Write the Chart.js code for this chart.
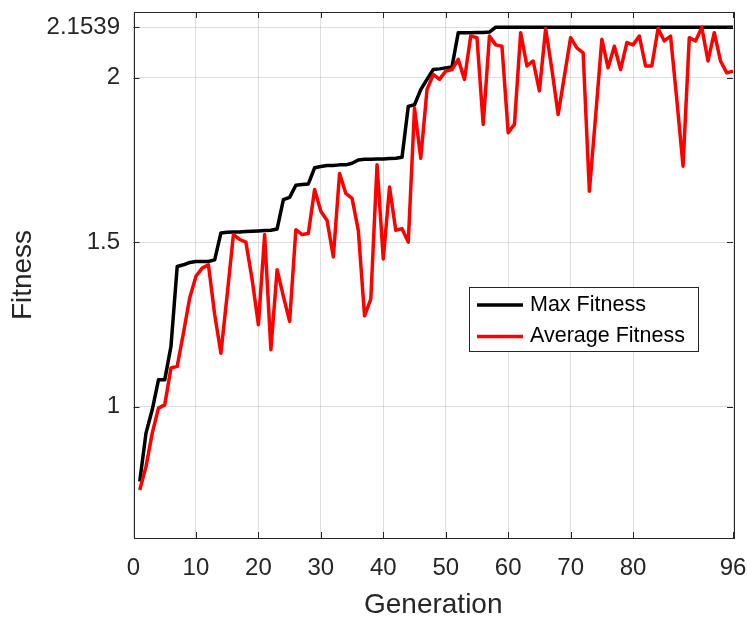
<!DOCTYPE html>
<html>
<head>
<meta charset="utf-8">
<script src="https://cdn.jsdelivr.net/npm/chart.js@4.4.1/dist/chart.umd.min.js"></script>
<style>
  html, body { margin: 0; padding: 0; background: #ffffff; }
  #wrap { width: 747px; height: 619px; }
</style>
</head>
<body>
<div id="wrap"><canvas id="c" width="747" height="619"></canvas></div>
<script>
// ---- Data ----
const generations = Array.from({length: 96}, (_, i) => i + 1);

const maxFitness = [
  0.772, 0.919, 0.990, 1.081, 1.081, 1.183, 1.426, 1.431, 1.438, 1.441,
  1.441, 1.441, 1.446, 1.528, 1.530, 1.531, 1.531, 1.532, 1.533, 1.534,
  1.535, 1.536, 1.540, 1.629, 1.636, 1.673, 1.675, 1.677, 1.726, 1.730,
  1.733, 1.733, 1.735, 1.735, 1.740, 1.750, 1.752, 1.752, 1.753, 1.753,
  1.754, 1.755, 1.758, 1.913, 1.918, 1.964, 1.995, 2.025, 2.027, 2.030,
  2.033, 2.137, 2.137, 2.137, 2.138, 2.138, 2.139, 2.1539, 2.1539, 2.1539,
  2.1539, 2.1539, 2.1539, 2.1539, 2.1539, 2.1539, 2.1539, 2.1539, 2.1539, 2.1539,
  2.1539, 2.1539, 2.1539, 2.1539, 2.1539, 2.1539, 2.1539, 2.1539, 2.1539, 2.1539,
  2.1539, 2.1539, 2.1539, 2.1539, 2.1539, 2.1539, 2.1539, 2.1539, 2.1539, 2.1539,
  2.1539, 2.1539, 2.1539, 2.1539, 2.1539, 2.1539
];

const avgFitness = [
  0.746, 0.817, 0.919, 0.995, 1.005, 1.117, 1.122, 1.224, 1.330, 1.396,
  1.421, 1.431, 1.280, 1.162, 1.340, 1.523, 1.508, 1.500, 1.386, 1.249,
  1.523, 1.173, 1.416, 1.335, 1.259, 1.538, 1.523, 1.526, 1.660, 1.594,
  1.566, 1.455, 1.709, 1.648, 1.633, 1.536, 1.276, 1.327, 1.735, 1.449,
  1.668, 1.536, 1.541, 1.500, 1.908, 1.755, 1.964, 2.010, 1.995, 2.020,
  2.025, 2.056, 1.995, 2.127, 2.122, 1.858, 2.127, 2.100, 2.096, 1.833,
  1.858, 2.137, 2.036, 2.051, 1.960, 2.150, 2.025, 1.888, 2.005, 2.122,
  2.091, 2.076, 1.655, 1.883, 2.117, 2.030, 2.096, 2.025, 2.107, 2.100,
  2.127, 2.036, 2.036, 2.150, 2.112, 2.127, 1.934, 1.731, 2.122, 2.112,
  2.153, 2.051, 2.137, 2.051, 2.015, 2.020
];

const xTicks = [0, 10, 20, 30, 40, 50, 60, 70, 80, 96];
const yTicks = [1, 1.5, 2, 2.1539];
const seriesLabels = ['Max Fitness', 'Average Fitness'];

// ---- Styling ----
const FONT = '"Liberation Sans", Arial, Helvetica, sans-serif';
const AX = '#262626';
const GRID = 'rgba(38,38,38,0.15)';

function zeroPad(scale) {
  scale.paddingTop = 0; scale.paddingBottom = 0;
  scale.paddingLeft = 0; scale.paddingRight = 0;
}

const frameAndTicks = {
  id: 'frameAndTicks',
  afterDatasetsDraw(chart) {
    const {ctx, chartArea: a, scales: {x, y}} = chart;
    const L = 6;
    ctx.save();
    ctx.strokeStyle = AX;
    ctx.lineWidth = 1;
    ctx.beginPath();
    xTicks.forEach(v => {
      const px = Math.round(x.getPixelForValue(v)) + 0.5;
      ctx.moveTo(px, a.bottom); ctx.lineTo(px, a.bottom - L);
      ctx.moveTo(px, a.top); ctx.lineTo(px, a.top + L);
    });
    yTicks.forEach(v => {
      const py = Math.round(y.getPixelForValue(v)) + 0.5;
      ctx.moveTo(a.left, py); ctx.lineTo(a.left + L, py);
      ctx.moveTo(a.right, py); ctx.lineTo(a.right - L, py);
    });
    ctx.stroke();
    ctx.strokeRect(Math.round(a.left) + 0.5, Math.round(a.top) + 0.5,
                   Math.round(a.right - a.left), Math.round(a.bottom - a.top));
    ctx.restore();
  }
};

const boxLegend = {
  id: 'boxLegend',
  afterDraw(chart) {
    const {ctx} = chart;
    const bx = 469.5, by = 287.5, bw = 229, bh = 64;
    ctx.save();
    ctx.fillStyle = '#ffffff';
    ctx.fillRect(bx, by, bw, bh);
    ctx.strokeStyle = AX;
    ctx.lineWidth = 1;
    ctx.strokeRect(bx, by, bw, bh);
    const rows = [305, 336.5];
    const items = [chart.data.datasets[0], chart.data.datasets[1]];
    items.forEach((ds, i) => {
      ctx.strokeStyle = ds.borderColor;
      ctx.lineWidth = 3.5;
      ctx.beginPath();
      ctx.moveTo(477, rows[i]);
      ctx.lineTo(523, rows[i]);
      ctx.stroke();
      ctx.fillStyle = '#000000';
      ctx.font = '21.5px ' + FONT;
      ctx.textAlign = 'left';
      ctx.textBaseline = 'middle';
      ctx.fillText(ds.label, 530, rows[i]);
    });
    ctx.restore();
  }
};

new Chart(document.getElementById('c'), {
  type: 'line',
  data: {
    labels: generations,
    datasets: [
      {
        label: seriesLabels[0],
        data: generations.map((g, i) => ({x: g, y: maxFitness[i]})),
        borderColor: '#000000',
        borderWidth: 3.5,
        pointRadius: 0,
        tension: 0,
        borderJoinStyle: 'round',
        fill: false,
        order: 1
      },
      {
        label: seriesLabels[1],
        data: generations.map((g, i) => ({x: g, y: avgFitness[i]})),
        borderColor: '#ff0000',
        borderWidth: 3.5,
        pointRadius: 0,
        tension: 0,
        borderJoinStyle: 'round',
        fill: false,
        order: 0
      }
    ]
  },
  options: {
    responsive: false,
    animation: false,
    devicePixelRatio: 1,
    layout: { padding: { left: 0, right: 14, top: 12, bottom: 0 } },
    plugins: {
      legend: { display: false },
      tooltip: { enabled: false },
      title: { display: false }
    },
    scales: {
      x: {
        type: 'linear',
        min: 0,
        max: 96,
        afterFit(scale) { scale.height = 81; zeroPad(scale); },
        afterBuildTicks(scale) { scale.ticks = xTicks.map(v => ({value: v})); },
        grid: { color: GRID, lineWidth: 1, drawTicks: false },
        border: { display: false },
        ticks: {
          autoSkip: false,
          maxRotation: 0,
          minRotation: 0,
          padding: 16,
          color: AX,
          font: { family: FONT, size: 24 },
          callback: v => String(v)
        },
        title: {
          display: true,
          text: 'Generation',
          color: AX,
          font: { family: FONT, size: 28, lineHeight: 1.0 },
          padding: { top: 0, bottom: 0 }
        }
      },
      y: {
        type: 'linear',
        min: 0.6,
        max: 2.2,
        afterFit(scale) { scale.width = 133.5; zeroPad(scale); },
        afterBuildTicks(scale) { scale.ticks = yTicks.map(v => ({value: v})); },
        grid: { color: GRID, lineWidth: 1, drawTicks: false },
        border: { display: false },
        ticks: {
          autoSkip: false,
          padding: 13.5,
          color: AX,
          font: { family: FONT, size: 24 },
          callback: v => String(v)
        },
        title: {
          display: true,
          text: 'Fitness',
          color: AX,
          font: { family: FONT, size: 28 },
          padding: { top: 6.5, bottom: 0 }
        }
      }
    }
  },
  plugins: [frameAndTicks, boxLegend]
});
</script>
</body>
</html>
